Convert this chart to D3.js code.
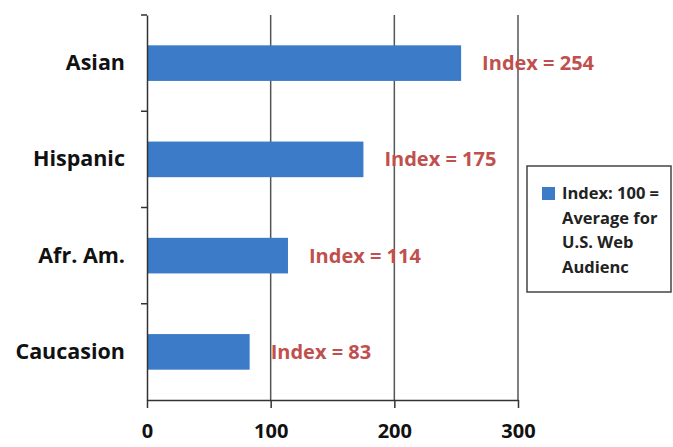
<!DOCTYPE html>
<html>
<head>
<meta charset="utf-8">
<script src="https://cdn.jsdelivr.net/npm/d3@7"></script>
<style>
  body { margin: 0; background: #fff; }
  text { font-family: "Open Sans", sans-serif; font-weight: bold; }
</style>
</head>
<body>
<script>
// chart data
var categories = ["Asian", "Hispanic", "Afr. Am.", "Caucasion"];
var indexValues = [254, 175, 114, 83];
var tickValues = [0, 100, 200, 300];
var legendLines = ["Index: 100 =", "Average for", "U.S. Web", "Audienc"];

var svgWidth = 673;
var svgHeight = 447;

var margin = { top: 15, right: 155, bottom: 47, left: 147 };
var width = svgWidth - margin.left - margin.right;
var height = svgHeight - margin.top - margin.bottom;

var barColor = "#3b7bc8";
var labelColor = "#c0504d";

var svg = d3.select("body")
  .append("svg")
  .attr("width", svgWidth)
  .attr("height", svgHeight);

var chart = svg.append("g")
  .attr("transform", "translate(" + margin.left + "," + margin.top + ")");

var x = d3.scaleLinear()
  .domain([0, 300])
  .range([0, 371]);

var y = d3.scaleBand()
  .domain(categories)
  .range([0, height])
  .padding(0);

var barH = y.bandwidth() * 0.37;

// gridlines
chart.append("g")
  .selectAll("line")
  .data(tickValues.slice(1))
  .enter()
  .append("line")
  .attr("x1", d => x(d))
  .attr("x2", d => x(d))
  .attr("y1", 0)
  .attr("y2", height)
  .attr("stroke", "#555")
  .attr("stroke-width", 1.5);

// bars
chart.append("g")
  .selectAll("rect")
  .data(indexValues)
  .enter()
  .append("rect")
  .attr("x", x(0))
  .attr("y", (d, i) => y(categories[i]) + (y.bandwidth() - barH) / 2)
  .attr("width", d => x(d) - x(0))
  .attr("height", barH)
  .attr("fill", barColor);

// x axis
var xAxis = chart.append("g")
  .attr("transform", "translate(0," + height + ")")
  .call(d3.axisBottom(x).tickValues(tickValues).tickSize(8).tickPadding(16).tickSizeOuter(0));
xAxis.select(".domain").attr("stroke", "#333").attr("stroke-width", 1.5);
xAxis.selectAll(".tick line").attr("stroke", "#333").attr("stroke-width", 1.5);
xAxis.selectAll(".tick text")
  .attr("font-size", "20px")
  .attr("fill", "#111")
  .attr("font-family", "'Open Sans', sans-serif")
  .attr("font-weight", "bold");

// y axis
var yAxis = chart.append("g")
  .call(d3.axisLeft(y).tickSize(0).tickPadding(22).tickSizeOuter(0));
yAxis.select(".domain").attr("stroke", "#333").attr("stroke-width", 1.5);
yAxis.selectAll(".tick text")
  .attr("font-size", "21.5px")
  .attr("fill", "#111")
  .attr("font-family", "'Open Sans', sans-serif")
  .attr("font-weight", "bold");

// category separator ticks
chart.append("g")
  .selectAll("line")
  .data(categories)
  .enter()
  .append("line")
  .attr("x1", -6)
  .attr("x2", 0)
  .attr("y1", d => y(d))
  .attr("y2", d => y(d))
  .attr("stroke", "#333")
  .attr("stroke-width", 1.5);

// value labels
chart.append("g")
  .selectAll("text")
  .data(indexValues)
  .enter()
  .append("text")
  .attr("x", d => x(d) + 21)
  .attr("y", (d, i) => y(categories[i]) + y.bandwidth() / 2)
  .attr("dy", "0.35em")
  .attr("font-size", "20px")
  .attr("fill", labelColor)
  .text(d => "Index = " + d);

// legend
var legend = svg.append("g")
  .attr("transform", "translate(527,166)");

legend.append("rect")
  .attr("width", 144)
  .attr("height", 126)
  .attr("fill", "#fff")
  .attr("stroke", "#444")
  .attr("stroke-width", 1.5);

legend.append("rect")
  .attr("x", 15)
  .attr("y", 21)
  .attr("width", 13)
  .attr("height", 13)
  .attr("fill", barColor);

legend.selectAll(".legend-line")
  .data(legendLines)
  .enter()
  .append("text")
  .attr("class", "legend-line")
  .attr("x", 35)
  .attr("y", (d, i) => 33 + i * 24.5)
  .attr("font-size", "16.5px")
  .attr("fill", "#222")
  .text(d => d);
</script>
</body>
</html>
